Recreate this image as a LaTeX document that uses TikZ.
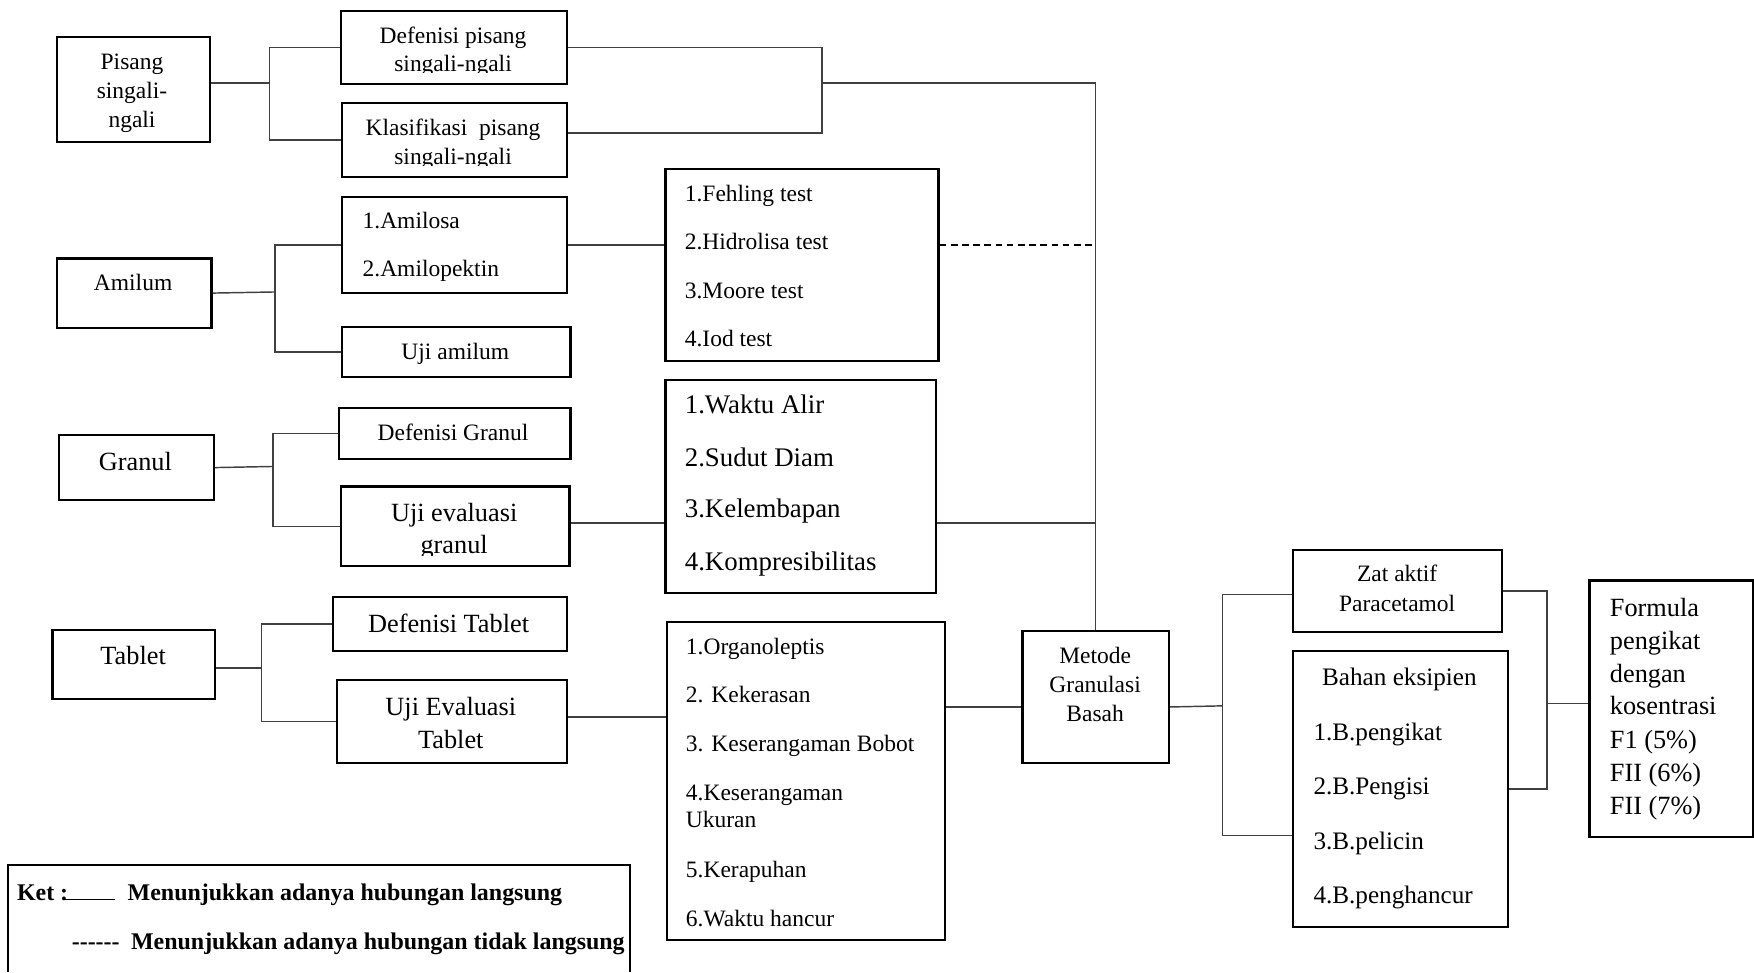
\documentclass[tikz,border=0pt]{standalone}
\usepackage{fontspec}
\setmainfont{Liberation Serif}
\begin{document}
\begin{tikzpicture}[x=1pt,y=-1pt,
 box/.style={draw=black, line width=2pt, inner sep=0pt, anchor=north west},
 conn/.style={draw=black!75, line width=1.3pt},
 dashconn/.style={draw=black, line width=1.5pt, dash pattern=on 6pt off 4pt},
 tc/.style={inner sep=0pt, anchor=base},
 tl/.style={inner sep=0pt, anchor=base west},
 fa/.style={font=\fontsize{21}{25}\selectfont},
 fb/.style={font=\fontsize{23.5}{28}\selectfont},
 fc/.style={font=\fontsize{22.5}{27}\selectfont},
 fd/.style={font=\fontsize{24}{28}\selectfont},
 fl/.style={font=\bfseries\fontsize{21.4}{25}\selectfont}]
\useasboundingbox (0,0) rectangle (1568,869);

% ---------- boxes ----------
\node[box, minimum width=137pt, minimum height=94pt] (pis) at (50,32) {};
\node[box, minimum width=202pt, minimum height=65pt] (defp) at (304,9) {};
\node[box, minimum width=201pt, minimum height=66pt] (klas) at (305,91) {};
\node[box, minimum width=138pt, minimum height=62pt] (amil) at (50,230) {};
\node[box, minimum width=201pt, minimum height=86pt] (amilosa) at (305,175) {};
\node[box, minimum width=204pt, minimum height=45pt] (ujiam) at (305,291) {};
\node[box, minimum width=244pt, minimum height=172pt] (feh) at (594,150) {};
\node[box, minimum width=138pt, minimum height=58pt] (gran) at (52,388) {};
\node[box, minimum width=207pt, minimum height=45pt] (defgr) at (302,364) {};
\node[box, minimum width=204pt, minimum height=71pt] (ujievg) at (304,434) {};
\node[box, minimum width=242pt, minimum height=190pt] (waktu) at (594,339) {};
\node[box, minimum width=145pt, minimum height=62pt] (tab) at (46,562) {};
\node[box, minimum width=209pt, minimum height=48pt] (deftab) at (297,533) {};
\node[box, minimum width=206pt, minimum height=74pt] (ujievt) at (300,607) {};
\node[box, minimum width=249pt, minimum height=284pt] (organ) at (595,555) {};
\node[box, minimum width=131pt, minimum height=118pt] (met) at (913,563) {};
\node[box, minimum width=187pt, minimum height=73pt] (zat) at (1155,491) {};
\node[box, minimum width=192pt, minimum height=247pt] (bahan) at (1155,581) {};
\node[box, minimum width=146pt, minimum height=229pt] (form) at (1420,518) {};

% ---------- texts ----------
\node[tc,fa] (pis1) at (118,62) {Pisang};
\node[tc,fa] (pis2) at (118,88) {singali-};
\node[tc,fa] (pis3) at (118,114) {ngali};

\node[tc,fa] (defp1) at (405,39) {Defenisi pisang};
\begin{scope}
 \clip (304,9) rectangle (506,65);
 \node[tc,fa] (defp2) at (405,64) {singali-ngali};
\end{scope}
\node[tc,fa] (klas1) at (405,121) {Klasifikasi\ \ pisang};
\begin{scope}
 \clip (305,91) rectangle (506,148);
 \node[tc,fa] (klas2) at (405,147) {singali-ngali};
\end{scope}

\node[tc,fa] (amil1) at (119,260) {Amilum};
\node[tl,fa] (am1) at (324,204) {1.Amilosa};
\node[tl,fa] (am2) at (324,247) {2.Amilopektin};
\node[tc,fa] (ujiam1) at (407,321) {Uji amilum};

\node[tl,fa] (f1) at (612,180) {1.Fehling test};
\node[tl,fa] (f2) at (612,223) {2.Hidrolisa test};
\node[tl,fa] (f3) at (612,267) {3.Moore test};
\node[tl,fa] (f4) at (612,310) {4.Iod test};

\node[tc,fb] (gran1) at (121,421) {Granul};
\node[tc,fa] (defgr1) at (405,394) {Defenisi Granul};
\node[tc,fb] (ujievg1) at (406,466) {Uji evaluasi};
\begin{scope}
 \clip (304,434) rectangle (508,497);
 \node[tc,fb] (ujievg2) at (406,495) {granul};
\end{scope}

\node[tl,fd] (w1) at (612,370) {1.Waktu Alir};
\node[tl,fd] (w2) at (612,417) {2.Sudut Diam};
\node[tl,fd] (w3) at (612,463) {3.Kelembapan};
\node[tl,fd] (w4) at (612,510) {4.Kompresibilitas};

\node[tc,fb] (tab1) at (119,594) {Tablet};
\node[tc,fb] (deftab1) at (401,565) {Defenisi Tablet};
\node[tc,fb] (ujievt1) at (403,640) {Uji Evaluasi};
\node[tc,fb] (ujievt2) at (403,669) {Tablet};

\node[tl,fa] (o1) at (613,585) {1.Organoleptis};
\node[tl,fa] (o2) at (613,628) {2. Kekerasan};
\node[tl,fa] (o3) at (613,672) {3. Keserangaman Bobot};
\node[tl,fa] (o4) at (613,716) {4.Keserangaman};
\node[tl,fa] (o4b) at (613,740) {Ukuran};
\node[tl,fa] (o5) at (613,784) {5.Kerapuhan};
\node[tl,fa] (o6) at (613,828) {6.Waktu hancur};

\node[tc,fa] (met1) at (979,593) {Metode};
\node[tc,fa] (met2) at (979,619) {Granulasi};
\node[tc,fa] (met3) at (979,645) {Basah};

\node[tc,fa] (zat1) at (1249,520) {Zat aktif};
\node[tc,fa] (zat2) at (1249,547) {Paracetamol};

\node[tc,fc] (bh0) at (1251,613) {Bahan eksipien};
\node[tl,fc] (bh1) at (1174,662) {1.B.pengikat};
\node[tl,fc] (bh2) at (1174,710) {2.B.Pengisi};
\node[tl,fc] (bh3) at (1174,759) {3.B.pelicin};
\node[tl,fc] (bh4) at (1174,808) {4.B.penghancur};

\node[tl,fb] (fm1) at (1439,551) {Formula};
\node[tl,fb] (fm2) at (1439,581) {pengikat};
\node[tl,fb] (fm3) at (1439,610) {dengan};
\node[tl,fb] (fm4) at (1439,639) {kosentrasi};
\node[tl,fb] (fm5) at (1439,669) {F1 (5\%)};
\node[tl,fb] (fm6) at (1439,699) {FII (6\%)};
\node[tl,fb] (fm7) at (1439,728) {FII (7\%)};

% ---------- connectors ----------
\coordinate (b1) at (241,74);
\draw[conn] (pis.east |- b1) -- (b1);
\draw[conn] (defp.west) -| (b1) |- (klas.west);

\coordinate (b2) at (735,74);
\coordinate (klasR) at ([yshift=6pt]klas.east);
\draw[conn] (defp.east) -| (b2) |- (klasR);
\draw[conn] (b2) -| (met.north);

\coordinate (b3) at (246,261);
\draw[conn] (amil.east) -- (b3);
\draw[conn] (amilosa.west) -| (b3) |- (ujiam.west);
\draw[conn] (amilosa.east) -- (amilosa.east -| feh.west);
\draw[dashconn] (feh.east |- amilosa.east) -- (met.north |- amilosa.east);

\coordinate (b4) at (244,417);
\draw[conn] (gran.east) -- (b4);
\draw[conn] (defgr.west) -| (b4) |- (ujievg.west);
\coordinate (gR) at ([yshift=3pt]ujievg.east);
\draw[conn] (gR) -- (gR -| waktu.west);
\draw[conn] (waktu.east |- gR) -- (met.north |- gR);

\coordinate (b5) at (234,597);
\draw[conn] (tab.east |- b5) -- (b5);
\draw[conn] (deftab.west) -| (b5) |- (ujievt.west);
\coordinate (tR) at ([yshift=4pt]ujievt.east);
\draw[conn] (tR) -- (tR -| organ.west);

\coordinate (mL) at ([yshift=-9pt]met.west);
\coordinate (mR) at ([yshift=-9pt]met.east);
\draw[conn] (organ.east |- mL) -- (mL);
\coordinate (b6) at (1093,631);
\coordinate (zatL) at ([yshift=-3pt]zat.west);
\coordinate (bahL) at ([yshift=-41.5pt]bahan.west);
\draw[conn] (mR) -- (b6);
\draw[conn] (zatL) -| (b6) |- (bahL);

\coordinate (b7) at (1383,629);
\draw[conn] (zat.east) -| (b7) |- (bahan.east);
\draw[conn] (b7) -- (b7 -| form.west);

% ---------- legend ----------
\draw[line width=1.8pt] (7,869) -- (7,773) -- (563,773) -- (563,869);
\node[tl,fl] (ket) at (15,805) {Ket :};
\coordinate (ls1) at (56,804);
\coordinate (ls2) at (103,804);
\draw[line width=1.2pt] (ls1) -- (ls2);
\node[tl,fl] (leg1) at (114,805) {Menunjukkan adanya hubungan langsung};
\node[tl,fl] (dsh) at (64,849) {-{}-{}-{}-{}-{}-};
\node[tl,fl] (leg2) at (117,849) {Menunjukkan adanya hubungan tidak langsung};
\end{tikzpicture}
\end{document}
